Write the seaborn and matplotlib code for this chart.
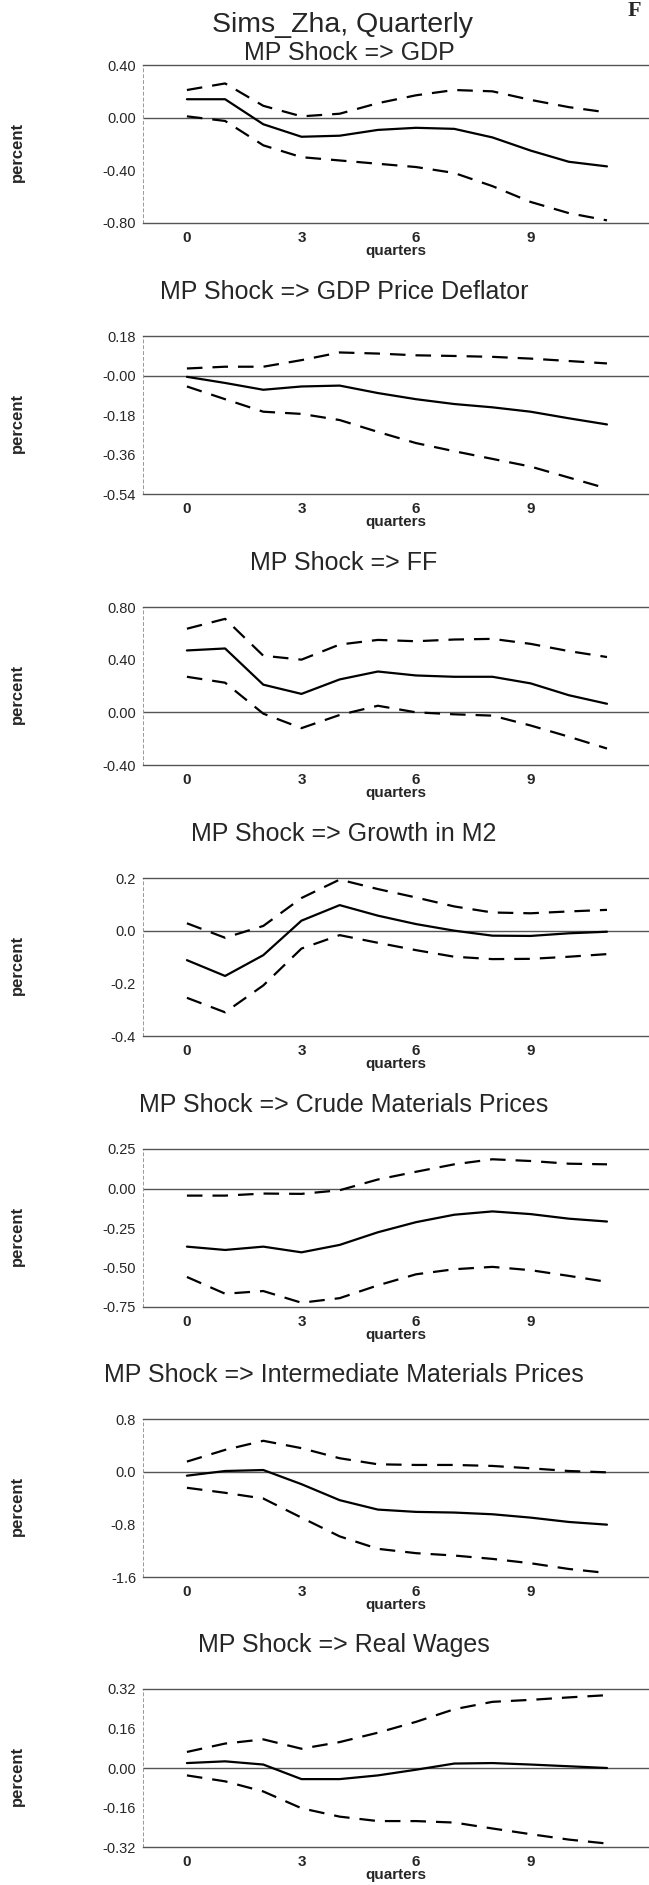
import matplotlib
matplotlib.use("Agg")
import matplotlib.pyplot as plt
import pandas as pd
import seaborn as sns

# impulse responses, quarters 0..11 (point estimate, upper and lower band)
quarters = list(range(12))

gdp_mid = [0.14, 0.14, -0.05, -0.145, -0.137, -0.093, -0.077, -0.085, -0.15, -0.25, -0.335, -0.37]
gdp_hi = [0.21, 0.26, 0.09, 0.01, 0.03, 0.11, 0.17, 0.21, 0.20, 0.135, 0.08, 0.04]
gdp_lo = [0.01, -0.025, -0.21, -0.30, -0.325, -0.35, -0.375, -0.42, -0.52, -0.64, -0.725, -0.78]

defl_mid = [-0.006, -0.034, -0.065, -0.05, -0.046, -0.08, -0.108, -0.13, -0.145, -0.165, -0.195, -0.223]
defl_hi = [0.032, 0.04, 0.04, 0.07, 0.105, 0.10, 0.092, 0.089, 0.085, 0.077, 0.066, 0.055]
defl_lo = [-0.05, -0.108, -0.165, -0.175, -0.203, -0.257, -0.308, -0.345, -0.38, -0.415, -0.465, -0.515]

ff_mid = [0.47, 0.485, 0.21, 0.14, 0.25, 0.31, 0.28, 0.27, 0.27, 0.22, 0.13, 0.065]
ff_hi = [0.635, 0.71, 0.43, 0.40, 0.515, 0.55, 0.54, 0.553, 0.558, 0.52, 0.465, 0.42]
ff_lo = [0.27, 0.225, -0.01, -0.12, -0.02, 0.05, 0.0, -0.015, -0.025, -0.10, -0.185, -0.275]

m2_mid = [-0.112, -0.172, -0.093, 0.038, 0.097, 0.057, 0.025, 0.0, -0.019, -0.02, -0.01, -0.004]
m2_hi = [0.028, -0.027, 0.018, 0.124, 0.194, 0.158, 0.126, 0.092, 0.069, 0.066, 0.073, 0.079]
m2_lo = [-0.255, -0.31, -0.208, -0.068, -0.017, -0.046, -0.074, -0.099, -0.108, -0.107, -0.099, -0.089]

crude_mid = [-0.368, -0.389, -0.368, -0.404, -0.357, -0.277, -0.213, -0.166, -0.145, -0.162, -0.191, -0.209]
crude_hi = [-0.045, -0.045, -0.032, -0.034, -0.011, 0.057, 0.106, 0.153, 0.185, 0.174, 0.157, 0.153]
crude_lo = [-0.56, -0.666, -0.649, -0.723, -0.694, -0.613, -0.543, -0.511, -0.496, -0.517, -0.553, -0.591]

inter_mid = [-0.061, 0.01, 0.025, -0.19, -0.433, -0.576, -0.611, -0.621, -0.647, -0.698, -0.764, -0.805]
inter_hi = [0.153, 0.331, 0.469, 0.357, 0.204, 0.112, 0.102, 0.102, 0.087, 0.051, 0.01, -0.01]
inter_lo = [-0.245, -0.321, -0.408, -0.698, -0.983, -1.172, -1.238, -1.274, -1.325, -1.391, -1.478, -1.539]

wage_mid = [0.02, 0.027, 0.014, -0.045, -0.045, -0.03, -0.007, 0.018, 0.02, 0.014, 0.007, 0.0]
wage_hi = [0.065, 0.099, 0.116, 0.078, 0.105, 0.143, 0.187, 0.238, 0.268, 0.276, 0.286, 0.295]
wage_lo = [-0.03, -0.054, -0.095, -0.163, -0.197, -0.215, -0.215, -0.221, -0.245, -0.268, -0.29, -0.306]

titles = ["MP Shock => GDP", "MP Shock => GDP Price Deflator", "MP Shock => FF",
          "MP Shock => Growth in M2", "MP Shock => Crude Materials Prices",
          "MP Shock => Intermediate Materials Prices", "MP Shock => Real Wages"]

y_ticks = [[0.40, 0.0, -0.40, -0.80],
           [0.18, 0.0, -0.18, -0.36, -0.54],
           [0.80, 0.40, 0.0, -0.40],
           [0.2, 0.0, -0.2, -0.4],
           [0.25, 0.0, -0.25, -0.50, -0.75],
           [0.8, 0.0, -0.8, -1.6],
           [0.32, 0.16, 0.0, -0.16, -0.32]]
y_labels = [["0.40", "0.00", "-0.40", "-0.80"],
            ["0.18", "-0.00", "-0.18", "-0.36", "-0.54"],
            ["0.80", "0.40", "0.00", "-0.40"],
            ["0.2", "0.0", "-0.2", "-0.4"],
            ["0.25", "0.00", "-0.25", "-0.50", "-0.75"],
            ["0.8", "0.0", "-0.8", "-1.6"],
            ["0.32", "0.16", "0.00", "-0.16", "-0.32"]]

series = [(gdp_mid, gdp_hi, gdp_lo), (defl_mid, defl_hi, defl_lo), (ff_mid, ff_hi, ff_lo),
          (m2_mid, m2_hi, m2_lo), (crude_mid, crude_hi, crude_lo),
          (inter_mid, inter_hi, inter_lo), (wage_mid, wage_hi, wage_lo)]

sns.set_style("white")
plt.rcParams['font.family'] = ['Liberation Sans', 'DejaVu Sans']

W, H = 649, 1885
fig = plt.figure(figsize=(W / 100, H / 100), dpi=100)

# axes tops in pixels
tops = [65, 336, 607, 878, 1149, 1419, 1689]
ax_h = 158
ax_left = 143

fig.text(342 / W, 1 - 25 / H, "Sims_Zha, Quarterly", ha='center', va='center', fontsize=20.5)
# page letter in the corner
fig.text(634 / W, 1 - 16 / H, "F", ha='center', va='baseline', fontsize=16, fontweight='bold',
         family=['Liberation Serif', 'DejaVu Serif'])

for i, (mid, hi, lo) in enumerate(series):
    ax = fig.add_axes([ax_left / W, 1 - (tops[i] + ax_h) / H, (W - ax_left) / W, ax_h / H])
    df = pd.DataFrame({"q": quarters, "mid": mid, "hi": hi, "lo": lo})
    ax.axhline(0, color='#555555', lw=1.0, zorder=1)
    sns.lineplot(data=df, x="q", y="mid", ax=ax, color='black', lw=1.6, zorder=3)
    for col in ["hi", "lo"]:
        sns.lineplot(data=df, x="q", y=col, ax=ax, color='black', lw=1.6, dashes=False,
                     zorder=3).lines[-1].set_dashes((7, 4.5))
    ticks = y_ticks[i]
    ax.set_ylim(min(ticks), max(ticks))
    ax.set_xlim(-1.15, 12.1)
    ax.set_yticks(ticks)
    ax.set_yticklabels(y_labels[i])
    ax.set_xticks([0, 3, 6, 9])
    ax.set_xticklabels(["0", "3", "6", "9"], fontweight='bold')
    ax.tick_params(axis='y', labelsize=10.5, length=3, width=0.6, color='#666666', pad=2)
    ax.tick_params(axis='x', labelsize=11, length=2, width=0.6, color='#666666', pad=4)
    for side in ['top', 'bottom']:
        ax.spines[side].set_color('#555555')
        ax.spines[side].set_linewidth(1.0)
    ax.spines['right'].set_visible(False)
    ax.spines['left'].set_color('#999999')
    ax.spines['left'].set_linewidth(0.7)
    ax.spines['left'].set_linestyle((0, (3, 3)))
    ax.set_xlabel("quarters", fontsize=11, fontweight='bold', labelpad=-1)
    ax.set_ylabel("percent", fontsize=12, fontweight='bold')
    ax.yaxis.set_label_coords(-0.233, 0.45)
    if i == 0:
        ax.text(349 / W, 1 - 53 / H, titles[i], transform=fig.transFigure,
                ha='center', va='center', fontsize=18)
    else:
        ax.text(344 / W, 1 - (tops[i] - 44) / H, titles[i], transform=fig.transFigure,
                ha='center', va='center', fontsize=18)

fig.savefig("out.png", dpi=100)
